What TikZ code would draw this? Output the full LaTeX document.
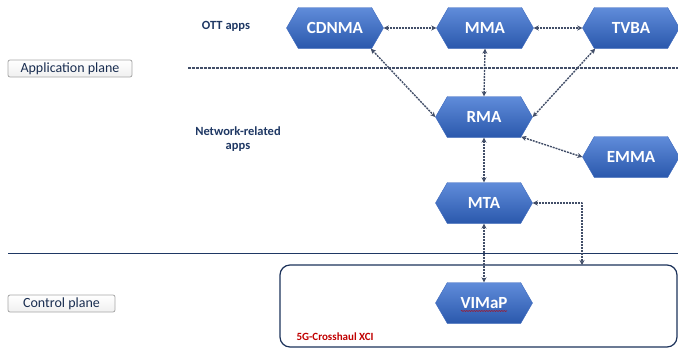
\documentclass[tikz,border=0pt]{standalone}
\usepackage{fontspec}
\setmainfont{Carlito}
\usetikzlibrary{arrows.meta,shapes.symbols,decorations.pathmorphing}
\definecolor{hexblue}{RGB}{62,106,190}
\definecolor{hextop}{RGB}{96,140,218}
\definecolor{hexbot}{RGB}{42,88,172}
\definecolor{navy}{RGB}{31,56,100}
\definecolor{link}{RGB}{66,78,104}
\definecolor{xcired}{RGB}{192,0,0}
\tikzset{
  app/.style={shape=signal, signal to=east and west, signal pointer angle=120,
    minimum width=97pt, minimum height=41pt, inner sep=0pt,
    top color=hextop, bottom color=hexbot, draw=hexblue, line width=0.4pt,
    text=white, font=\fontsize{17}{19}\selectfont\bfseries},
  plane/.style={draw=gray!70, rounded corners=2pt, top color=white, bottom color=gray!12,
    line width=0.8pt, inner sep=0pt, minimum height=17pt, text=navy!80!black,
    font=\fontsize{14}{16}\selectfont},
  group/.style={text=navy, font=\fontsize{12.5}{14}\selectfont\bfseries, align=center},
  link/.style={draw=link, line width=1.4pt, dash pattern=on 2pt off 1pt,
    {Stealth[length=5pt,width=5pt]}-{Stealth[length=5pt,width=5pt]}}
}

\begin{document}
\begin{tikzpicture}[x=1pt,y=-1pt, line cap=butt, line join=round]
  \useasboundingbox (0,0) rectangle (678,349);
  \draw [navy, line width=1pt] (8,253) -- (678,253);
  \draw [link, line width=1.3pt, dash pattern=on 2.5pt off 1.5pt, -] (188,68) -- (678,68);
  \draw [navy!90!black, line width=1.2pt, rounded corners=10pt] (280,265) rectangle (677,347);

  \node [plane, minimum width=124pt] (aplane) at (70,68.5) {Application plane};
  \node [plane, minimum width=107pt] (cplane) at (61.5,303.5) {Control plane};
  \node [group] (ott) at (226,26) {OTT apps};
  \node [group] (netapps) at (238,139) {Network-related\\apps};
  \node [anchor=west, text=xcired, font=\fontsize{11}{13}\selectfont\bfseries] (xcilabel) at (293,337) {5G-Crosshaul XCI};

  \node [app] (cdnma) at (335,28) {CDNMA};
  \node [app] (mma) at (485,28) {MMA};
  \node [app] (tvba) at (631,28) {TVBA};
  \node [app] (rma) at (484,117) {RMA};
  \node [app] (emma) at (631,157) {EMMA};
  \node [app] (mta) at (484,203) {MTA};
  \node [app] (vimap) at (484,303) {VIMaP};
  \draw [xcired, line width=0.5pt, decorate, decoration={snake, amplitude=0.5pt, segment length=2.5pt}]
    ([yshift=-2.5pt]vimap.base) ++(-23,0) -- ++(46,0);

  \coordinate (drop) at (582,265);
  \draw [link] (cdnma.east) -- (mma.west);
  \draw [link] (mma.east) -- (tvba.west);
  \draw [link] (mma.south) -- (rma.north);
  \draw [link] (cdnma.-30) -- (rma.west);
  \draw [link] (tvba.-150) -- (rma.east);
  \draw [link] (rma.-28) -- (emma.west);
  \draw [link] (rma.south) -- (mta.north);
  \draw [link] (mta.south) -- (vimap.north);
  \draw [link] (mta.east) -| (drop);
\end{tikzpicture}
\end{document}
